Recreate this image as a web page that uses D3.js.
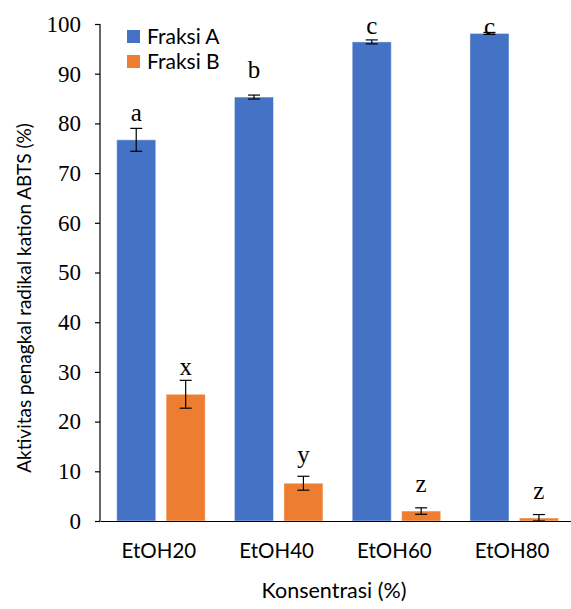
<!DOCTYPE html>
<html>
<head>
<meta charset="utf-8">
<script src="https://cdn.jsdelivr.net/npm/d3@7"></script>
<style>
  html, body { margin: 0; padding: 0; background: #fff; overflow: hidden; }
  svg { display: block; }
</style>
</head>
<body>
<svg id="chart"></svg>
<script>
var categories = ["EtOH20", "EtOH40", "EtOH60", "EtOH80"];
var seriesNames = ["Fraksi A", "Fraksi B"];
var fraksiA = [76.7, 85.3, 96.4, 98.1];
var fraksiAErr = [2.3, 0.4, 0.4, 0.2];
var fraksiB = [25.5, 7.6, 2.0, 0.6];
var fraksiBErr = [2.8, 1.4, 0.65, 0.7];
var lettersA = ["a", "b", "c", "c"];
var lettersB = ["x", "y", "z", "z"];
var letterPosA = [80.5, 89.1, 98.0, 97.8];
var letterPosB = [29.4, 11.7, 5.8, 4.4];
var yTicks = [0, 10, 20, 30, 40, 50, 60, 70, 80, 90, 100];
var colors = ["#4472C4", "#ED7D31"];

var serif = "'Liberation Serif', 'Times New Roman', serif",
  sans = "Lato, 'Liberation Sans', sans-serif";

var width = 571, height = 609,
  margin = {top: 24, right: 0, bottom: 88, left: 100},
  innerWidth = width - margin.left - margin.right,
  innerHeight = height - margin.top - margin.bottom;

var svg = d3.select("#chart")
  .attr("width", width)
  .attr("height", height);

var g = svg.append("g")
  .attr("transform", "translate(" + margin.left + "," + margin.top + ")");

var x = d3.scaleBand().domain(categories).range([0, innerWidth]);
var sub = d3.scaleBand().domain(seriesNames).range([16.7, 105.2]).paddingInner(0.21);
var y = d3.scaleLinear().domain([0, 100]).range([innerHeight, 0]);

var rows = categories.map(function(c, i) {
  return [
    {cat: c, s: seriesNames[0], v: fraksiA[i], e: fraksiAErr[i], l: lettersA[i], lp: letterPosA[i], c: colors[0]},
    {cat: c, s: seriesNames[1], v: fraksiB[i], e: fraksiBErr[i], l: lettersB[i], lp: letterPosB[i], c: colors[1]}
  ];
});
var flat = [].concat.apply([], rows);
var cx = function(d) { return x(d.cat) + sub(d.s) + sub.bandwidth() / 2; };

// bars
g.selectAll(".bar")
  .data(flat)
  .enter()
  .append("rect")
    .attr("class", "bar")
    .attr("x", function(d) { return x(d.cat) + sub(d.s); })
    .attr("width", sub.bandwidth())
    .attr("y", function(d) { return y(d.v); })
    .attr("height", function(d) { return y(0) - y(d.v); })
    .attr("fill", function(d) { return d.c; })
    .attr("stroke", "#ffffff")
    .attr("stroke-opacity", 0.45)
    .attr("stroke-width", 1);

// error bars
var eb = g.selectAll(".err")
  .data(flat)
  .enter()
  .append("g")
    .attr("class", "err")
    .attr("stroke", "#000")
    .attr("stroke-width", 1.2);

eb.append("line")
  .attr("x1", cx)
  .attr("x2", cx)
  .attr("y1", function(d) { return y(d.v + d.e); })
  .attr("y2", function(d) { return y(Math.max(0, d.v - d.e)); });

[1, -1].forEach(function(sign) {
  eb.append("line")
    .attr("x1", function(d) { return cx(d) - 6; })
    .attr("x2", function(d) { return cx(d) + 6; })
    .attr("y1", function(d) { return y(Math.max(0, d.v + sign * d.e)); })
    .attr("y2", function(d) { return y(Math.max(0, d.v + sign * d.e)); });
});

// significance letters
g.selectAll(".letter")
  .data(flat)
  .enter()
  .append("text")
    .attr("class", "letter")
    .attr("x", cx)
    .attr("y", function(d) { return y(d.lp); })
    .attr("text-anchor", "middle")
    .attr("font-family", serif)
    .attr("font-size", "25px")
    .attr("fill", "#000")
    .text(function(d) { return d.l; });

// y axis
var yAxis = g.append("g")
  .attr("class", "y axis")
  .call(d3.axisLeft(y).tickValues(yTicks).tickSize(5).tickPadding(14));
yAxis.select(".domain").attr("stroke", "#000").attr("stroke-width", 1.2).attr("d", "M0," + y(100) + "V" + y(0));
yAxis.selectAll(".tick line").attr("stroke", "#000").attr("stroke-width", 1.2);
yAxis.selectAll(".tick text")
  .attr("font-family", serif)
  .attr("font-size", "23px")
  .attr("fill", "#000");

// x axis
var xAxis = g.append("g")
  .attr("class", "x axis")
  .attr("transform", "translate(0," + innerHeight + ")")
  .call(d3.axisBottom(x).tickSize(0).tickPadding(22));
xAxis.select(".domain").attr("stroke", "#000").attr("stroke-width", 1.2);
xAxis.selectAll(".tick text")
  .attr("font-family", sans)
  .attr("font-size", "20.5px")
  .attr("fill", "#000");

// axis titles
svg.append("text")
  .attr("x", 334)
  .attr("y", 598)
  .attr("text-anchor", "middle")
  .attr("font-family", sans)
  .attr("font-size", "21.5px")
  .attr("fill", "#000")
  .text("Konsentrasi (%)");

svg.append("text")
  .attr("transform", "translate(31,298) rotate(-90)")
  .attr("text-anchor", "middle")
  .attr("font-family", sans)
  .attr("font-size", "19px")
  .attr("fill", "#000")
  .text("Aktivitas penagkal radikal kation ABTS (%)");

// legend
var legend = svg.append("g")
  .attr("transform", "translate(127,30)");
var items = legend.selectAll(".item")
  .data(seriesNames)
  .enter()
  .append("g")
    .attr("class", "item")
    .attr("transform", function(d, i) { return "translate(0," + (i * 25) + ")"; });
items.append("rect")
  .attr("width", 13)
  .attr("height", 13)
  .attr("fill", function(d, i) { return colors[i]; });
items.append("text")
  .attr("x", 20)
  .attr("y", 13.5)
  .attr("font-family", sans)
  .attr("font-size", "21px")
  .attr("fill", "#000")
  .text(function(d) { return d; });
</script>
</body>
</html>
